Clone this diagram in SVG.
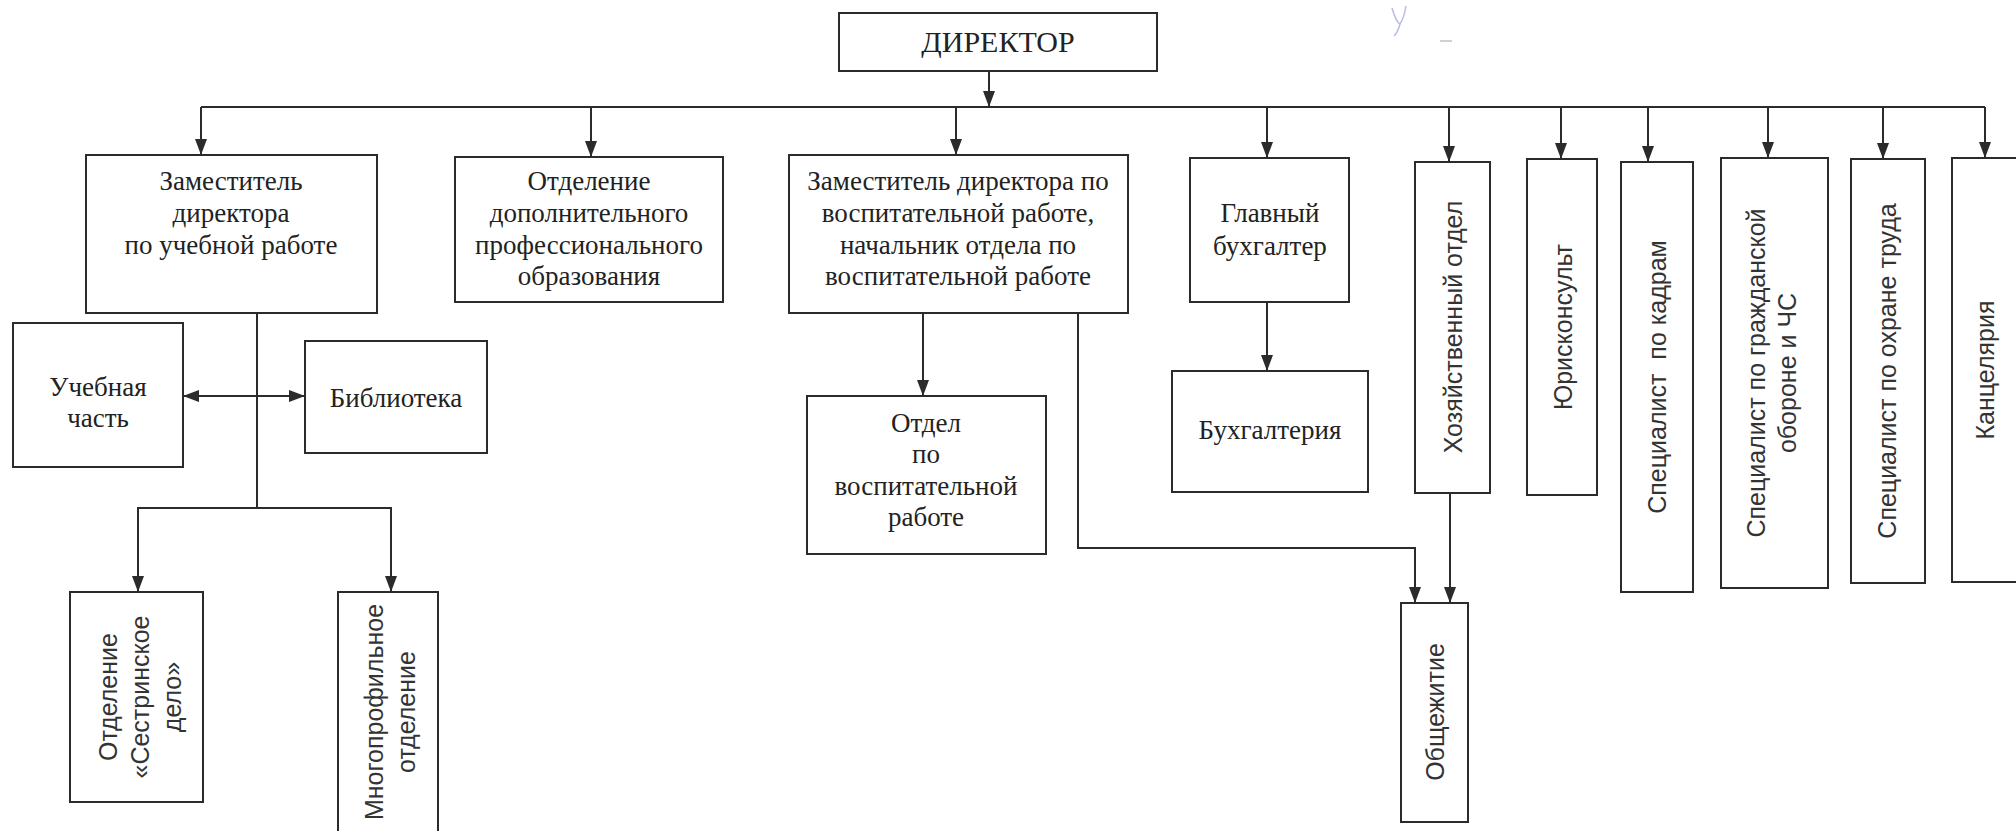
<svg xmlns="http://www.w3.org/2000/svg" width="2016" height="831" viewBox="0 0 2016 831">
<style>
.box{fill:#fff;stroke:#2b2b2b;stroke-width:2}
.con{fill:none;stroke:#2b2b2b;stroke-width:2}
.t{font-family:"Liberation Serif","Times New Roman",serif;font-size:27px;fill:#222;text-anchor:middle}
.v{font-family:"Liberation Sans",Arial,sans-serif;font-size:25px;fill:#333;text-anchor:middle}
</style>
<defs>
<marker id="arr" markerUnits="userSpaceOnUse" markerWidth="16" markerHeight="12" refX="16" refY="6" orient="auto-start-reverse" viewBox="0 0 16 12">
<path d="M0,0 L16,6 L0,12 z" fill="#2b2b2b"/>
</marker>
</defs>
<rect width="2016" height="831" fill="#fff"/>

<g id="connectors">
<path class="con" d="M989,71 V107" marker-end="url(#arr)"/>
<path class="con" d="M201,107 H1985"/>
<path class="con" d="M201,107 V155" marker-end="url(#arr)"/>
<path class="con" d="M591,107 V157" marker-end="url(#arr)"/>
<path class="con" d="M956,107 V155" marker-end="url(#arr)"/>
<path class="con" d="M1267,107 V158" marker-end="url(#arr)"/>
<path class="con" d="M1449,107 V162" marker-end="url(#arr)"/>
<path class="con" d="M1561,107 V159" marker-end="url(#arr)"/>
<path class="con" d="M1648,107 V162" marker-end="url(#arr)"/>
<path class="con" d="M1768,107 V158" marker-end="url(#arr)"/>
<path class="con" d="M1883,107 V159" marker-end="url(#arr)"/>
<path class="con" d="M1985,107 V158" marker-end="url(#arr)"/>
<path class="con" d="M1267,302 V371" marker-end="url(#arr)"/>
<path class="con" d="M923,313 V396" marker-end="url(#arr)"/>
<path class="con" d="M1078,313 V548 H1415 V603" marker-end="url(#arr)"/>
<path class="con" d="M1450,493 V603" marker-end="url(#arr)"/>
<path class="con" d="M257,313 V508"/>
<path class="con" d="M183,396 H305" marker-start="url(#arr)" marker-end="url(#arr)"/>
<path class="con" d="M138,592 V508 H391 V592" marker-end="url(#arr)"/>
<path class="con" d="M138,508 V592" marker-end="url(#arr)"/>
</g>

<g id="director">
<rect class="box" x="839" y="13" width="318" height="58"/>
<text class="t" x="998" y="52" style="font-size:30px">ДИРЕКТОР</text>
</g>

<g id="deputy-study">
<rect class="box" x="86" y="155" width="291" height="158"/>
<text class="t" x="231" y="190">Заместитель</text>
<text class="t" x="231" y="222">директора</text>
<text class="t" x="231" y="254">по учебной работе</text>
</g>

<g id="dpo">
<rect class="box" x="455" y="157" width="268" height="145"/>
<text class="t" x="589" y="190">Отделение</text>
<text class="t" x="589" y="222">дополнительного</text>
<text class="t" x="589" y="254">профессионального</text>
<text class="t" x="589" y="285">образования</text>
</g>

<g id="deputy-edu">
<rect class="box" x="789" y="155" width="339" height="158"/>
<text class="t" x="958" y="190">Заместитель директора по</text>
<text class="t" x="958" y="222">воспитательной работе,</text>
<text class="t" x="958" y="254">начальник отдела по</text>
<text class="t" x="958" y="285">воспитательной работе</text>
</g>

<g id="chief-accountant">
<rect class="box" x="1190" y="158" width="159" height="144"/>
<text class="t" x="1270" y="222">Главный</text>
<text class="t" x="1270" y="255">бухгалтер</text>
</g>

<g id="accounting">
<rect class="box" x="1172" y="371" width="196" height="121"/>
<text class="t" x="1270" y="439">Бухгалтерия</text>
</g>

<g id="household">
<rect class="box" x="1415" y="162" width="75" height="331"/>
<text class="v" transform="translate(1453 327) rotate(-90)" x="0" y="9">Хозяйственный отдел</text>
</g>

<g id="lawyer">
<rect class="box" x="1527" y="159" width="70" height="336"/>
<text class="v" transform="translate(1563 327) rotate(-90)" x="0" y="9">Юрисконсульт</text>
</g>

<g id="hr">
<rect class="box" x="1621" y="162" width="72" height="430"/>
<text class="v" transform="translate(1657 377) rotate(-90)" x="0" y="9" xml:space="preserve">Специалист  по кадрам</text>
</g>

<g id="civil-defense">
<rect class="box" x="1721" y="158" width="107" height="430"/>
<text class="v" transform="translate(1771 373) rotate(-90)" x="0" y="-6.5">Специалист по гражданской</text>
<text class="v" transform="translate(1771 373) rotate(-90)" x="0" y="24.5">обороне и ЧС</text>
</g>

<g id="labor-safety">
<rect class="box" x="1851" y="159" width="74" height="424"/>
<text class="v" transform="translate(1887 371) rotate(-90)" x="0" y="9">Специалист по охране труда</text>
</g>

<g id="office">
<rect class="box" x="1952" y="158" width="70" height="424"/>
<text class="v" transform="translate(1985 370) rotate(-90)" x="0" y="9">Канцелярия</text>
</g>

<g id="study-part">
<rect class="box" x="13" y="323" width="170" height="144"/>
<text class="t" x="98" y="396">Учебная</text>
<text class="t" x="98" y="427">часть</text>
</g>

<g id="library">
<rect class="box" x="305" y="341" width="182" height="112"/>
<text class="t" x="396" y="407">Библиотека</text>
</g>

<g id="edu-dept">
<rect class="box" x="807" y="396" width="239" height="158"/>
<text class="t" x="926" y="432">Отдел</text>
<text class="t" x="926" y="463">по</text>
<text class="t" x="926" y="495">воспитательной</text>
<text class="t" x="926" y="526">работе</text>
</g>

<g id="dormitory">
<rect class="box" x="1401" y="603" width="67" height="219"/>
<text class="v" transform="translate(1435 712) rotate(-90)" x="0" y="9">Общежитие</text>
</g>

<g id="nursing">
<rect class="box" x="70" y="592" width="133" height="210"/>
<text class="v" transform="translate(140 697) rotate(-90)" x="0" y="-23">Отделение</text>
<text class="v" transform="translate(140 697) rotate(-90)" x="0" y="9">«Сестринское</text>
<text class="v" transform="translate(140 697) rotate(-90)" x="0" y="41">дело»</text>
</g>

<g id="multi">
<rect class="box" x="338" y="592" width="100" height="245"/>
<text class="v" transform="translate(390 712) rotate(-90)" x="0" y="-7">Многопрофильное</text>
<text class="v" transform="translate(390 712) rotate(-90)" x="0" y="25">отделение</text>
</g>

<path d="M1392,8 q4,14 8,16 q4,-6 6,-18 M1400,24 q-2,8 -6,12" fill="none" stroke="#8a8fd0" stroke-width="1.5" opacity="0.6"/>
<path d="M1440,41 h12" stroke="#999" stroke-width="1.5" opacity="0.6"/>
</svg>
